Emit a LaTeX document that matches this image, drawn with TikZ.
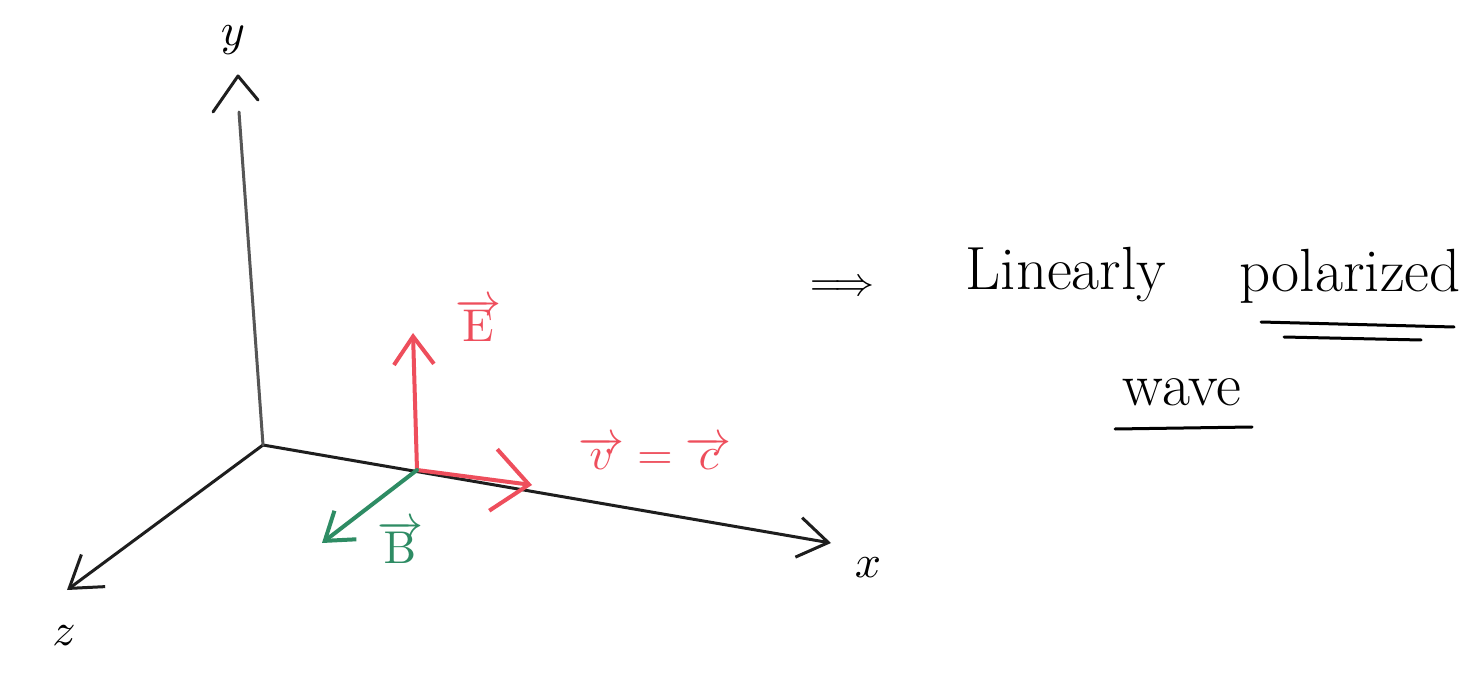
\documentclass[tikz,border=0pt]{standalone}
\usepackage{graphicx}
\usetikzlibrary{arrows.meta}
\definecolor{redpen}{RGB}{238,78,92}
\definecolor{greenpen}{RGB}{46,140,100}
\definecolor{axisgray}{RGB}{30,30,30}
\newcommand{\bigmath}[1]{\scalebox{4.6}{$#1$}}
\begin{document}
\begin{tikzpicture}[x=1pt,y=-1pt,
  axisline/.style={line width=3pt, draw=axisgray, line cap=round, line join=round},
  axisarrow/.style={axisline, -{Straight Barb[length=30pt,width=40pt,line width=3pt]}},
  redvec/.style={line width=4pt, draw=redpen, line cap=round},
  greenvec/.style={line width=4pt, draw=greenpen, line cap=round},
  hand/.style={font=\fontsize{61}{72}\selectfont, inner sep=0pt},
  lab/.style={inner sep=0pt},
  under/.style={line width=3pt, line cap=round}]
\useasboundingbox[fill=white] (0,0) rectangle (1466,692);

% axes
\coordinate (O) at (263,445);
\coordinate (X) at (831,543);
\coordinate (Z) at (67,590);
\coordinate (Y) at (239,112);
\coordinate (Ytip) at (238,76);
\draw[axisarrow] (O) -- (X);
\draw[axisarrow] (O) -- (Z);
\draw[axisline, draw=axisgray!75] (O) -- (Y);
\draw[axisline] (213,112) -- (Ytip) -- (258,100);

\node[lab] (ylab) at (233,40) {\bigmath{y}};
\node[lab] (xlab) at (868,568) {\bigmath{x}};
\node[lab] (zlab) at (64,636) {\bigmath{z}};

% field vectors
\coordinate (P) at (417,470);
\coordinate (Etip) at (413,333);
\coordinate (Vtip) at (532,485);
\coordinate (Btip) at (322,543);
\draw[redvec, -{Straight Barb[length=28pt,width=40pt,line width=4pt]}] (P) -- (Etip);
\draw[redvec, -{Straight Barb[length=36pt,width=62pt,line width=4pt]}] (P) -- (Vtip);
\draw[greenvec, -{Straight Barb[length=26pt,width=36pt,line width=4pt]}] (P) -- (Btip);

\node[lab, text=redpen] (Elab) at (478,320) {\bigmath{\overrightarrow{\mathrm{E}}}};
\node[lab, text=greenpen] (Blab) at (400,542) {\bigmath{\overrightarrow{\mathrm{B}}}};
\node[lab, text=redpen] (vclab) at (655,453) {\bigmath{\overrightarrow{v}=\overrightarrow{c}}};

% text
\node[lab] (impl) at (842,288) {\scalebox{4}{$\Longrightarrow$}};
\node[hand, anchor=base] (lin) at (1066,290) {Linearly};
\node[hand, anchor=base] (pol) at (1350,292) {polarized};
\node[hand, anchor=base] (wave) at (1182,405) {wave};
\draw[under] (1261,322) -- (1454,327);
\draw[under] (1284,337) -- (1421,340);
\draw[under] (1115,429) -- (1252,427);
\end{tikzpicture}
\end{document}
